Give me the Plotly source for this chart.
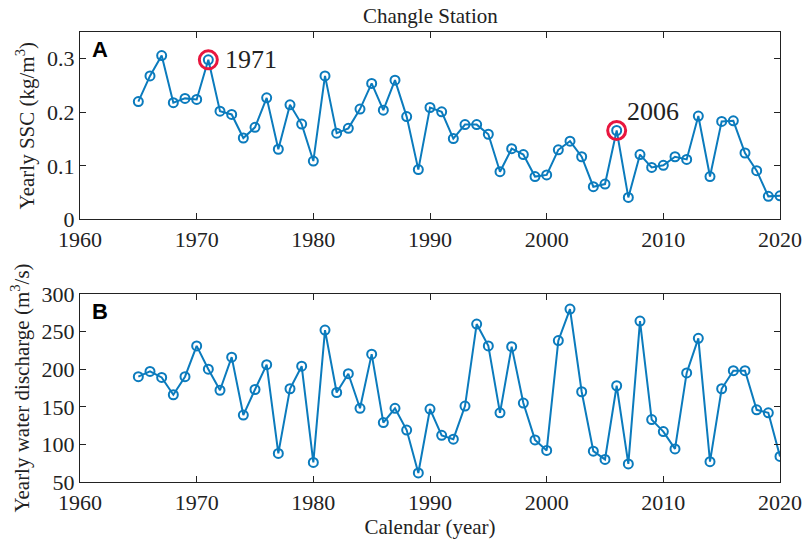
import plotly.graph_objects as go

years = list(range(1965, 2021))
ssc = [0.220, 0.268, 0.306, 0.218, 0.226, 0.224, 0.298, 0.202, 0.196, 0.152,
       0.172, 0.227, 0.131, 0.214, 0.178, 0.109, 0.268, 0.161, 0.170, 0.206,
       0.254, 0.204, 0.260, 0.192, 0.093, 0.209, 0.201, 0.151, 0.177, 0.177,
       0.159, 0.089, 0.132, 0.121, 0.080, 0.083, 0.130, 0.146, 0.117, 0.061,
       0.066, 0.166, 0.041, 0.121, 0.097, 0.101, 0.117, 0.112, 0.193, 0.080,
       0.183, 0.184, 0.124, 0.091, 0.043, 0.044]
discharge = [190, 197, 189, 166, 190, 231, 200, 172, 216, 139,
             173, 206, 88, 174, 204, 76, 252, 169, 194, 148,
             220, 129, 148, 119, 62, 147, 112, 107, 151, 260,
             231, 142, 230, 155, 106, 92, 238, 280, 170, 91,
             80, 178, 74, 264, 133, 117, 94, 195, 241, 77,
             174, 198, 198, 146, 142, 84]
highlight_years = [1971, 2006]
x_ticks = [1960, 1970, 1980, 1990, 2000, 2010, 2020]
ssc_ticks = [0, 0.1, 0.2, 0.3]
ssc_tick_text = ["0", "0.1", "0.2", "0.3"]
q_ticks = [50, 100, 150, 200, 250, 300]

BLUE = "#0B7BBD"
RED = "#E8173F"
INK = "#222222"
SERIF = "Liberation Serif, Times New Roman, serif"
SANS = "Liberation Sans, Arial, sans-serif"

fig = go.Figure()
fig.add_trace(go.Scatter(x=years, y=ssc, mode="lines+markers", xaxis="x", yaxis="y",
                         line=dict(color=BLUE, width=2),
                         marker=dict(symbol="circle-open", size=9, color=BLUE, line=dict(width=2)),
                         showlegend=False))
hy = [ssc[years.index(y)] for y in highlight_years]
fig.add_trace(go.Scatter(x=highlight_years, y=hy, mode="markers", xaxis="x", yaxis="y",
                         marker=dict(symbol="circle-open", size=18, color=RED, line=dict(width=3)),
                         showlegend=False))
fig.add_trace(go.Scatter(x=years, y=discharge, mode="lines+markers", xaxis="x2", yaxis="y2",
                         line=dict(color=BLUE, width=2),
                         marker=dict(symbol="circle-open", size=9, color=BLUE, line=dict(width=2)),
                         showlegend=False))

axis_common = dict(showline=True, linecolor=INK, linewidth=1.3, mirror="ticks",
                   ticks="inside", ticklen=6, tickwidth=1.3, tickcolor=INK,
                   showgrid=False, zeroline=False, automargin=False,
                   tickfont=dict(family=SERIF, size=22, color=INK))

fig.update_layout(
    width=802, height=544,
    margin=dict(l=80, r=22, t=32, b=62),
    plot_bgcolor="white", paper_bgcolor="white",
    xaxis=dict(domain=[0, 1], anchor="y", range=[1960, 2020], tickvals=x_ticks, **axis_common),
    yaxis=dict(domain=[0.5836, 1], anchor="x", range=[0, 0.35], tickvals=ssc_ticks,
               ticktext=ssc_tick_text,
               title=dict(text="Yearly SSC (kg/m<sup>3</sup>)", font=dict(family=SERIF, size=21, color=INK),
                          standoff=6),
               **axis_common),
    xaxis2=dict(domain=[0, 1], anchor="y2", range=[1960, 2020], tickvals=x_ticks,
                title=dict(text="Calendar (year)", font=dict(family=SERIF, size=21, color=INK), standoff=2),
                **axis_common),
    yaxis2=dict(domain=[0, 0.4178], anchor="x2", range=[50, 300], tickvals=q_ticks,
                title=dict(text="Yearly water discharge (m<sup>3</sup>/s)", font=dict(family=SERIF, size=21, color=INK),
                           standoff=6),
                **axis_common),
    annotations=[
        dict(text="Changle Station", x=0.5, y=1, xref="paper", yref="paper", xanchor="center",
             yanchor="bottom", yshift=2, showarrow=False, font=dict(family=SERIF, size=21, color=INK)),
        dict(text="<b>A</b>", x=0, y=1, xref="x domain", yref="y domain", xanchor="left", yanchor="top",
             xshift=10, yshift=-3, showarrow=False, font=dict(family=SANS, size=22, color="black")),
        dict(text="<b>B</b>", x=0, y=1, xref="x2 domain", yref="y2 domain", xanchor="left", yanchor="top",
             xshift=10, yshift=-3, showarrow=False, font=dict(family=SANS, size=22, color="black")),
        dict(text=str(highlight_years[0]), x=highlight_years[0], y=hy[0], xref="x", yref="y",
             xanchor="center", yanchor="middle", xshift=43, yshift=0, showarrow=False,
             font=dict(family=SERIF, size=26, color=INK)),
        dict(text=str(highlight_years[1]), x=highlight_years[1], y=hy[1], xref="x", yref="y",
             xanchor="center", yanchor="middle", xshift=36, yshift=19, showarrow=False,
             font=dict(family=SERIF, size=26, color=INK)),
    ],
)

fig.write_html("out.html", config={"displayModeBar": False},
               post_script="document.body.style.margin='0';document.body.style.padding='0';")
